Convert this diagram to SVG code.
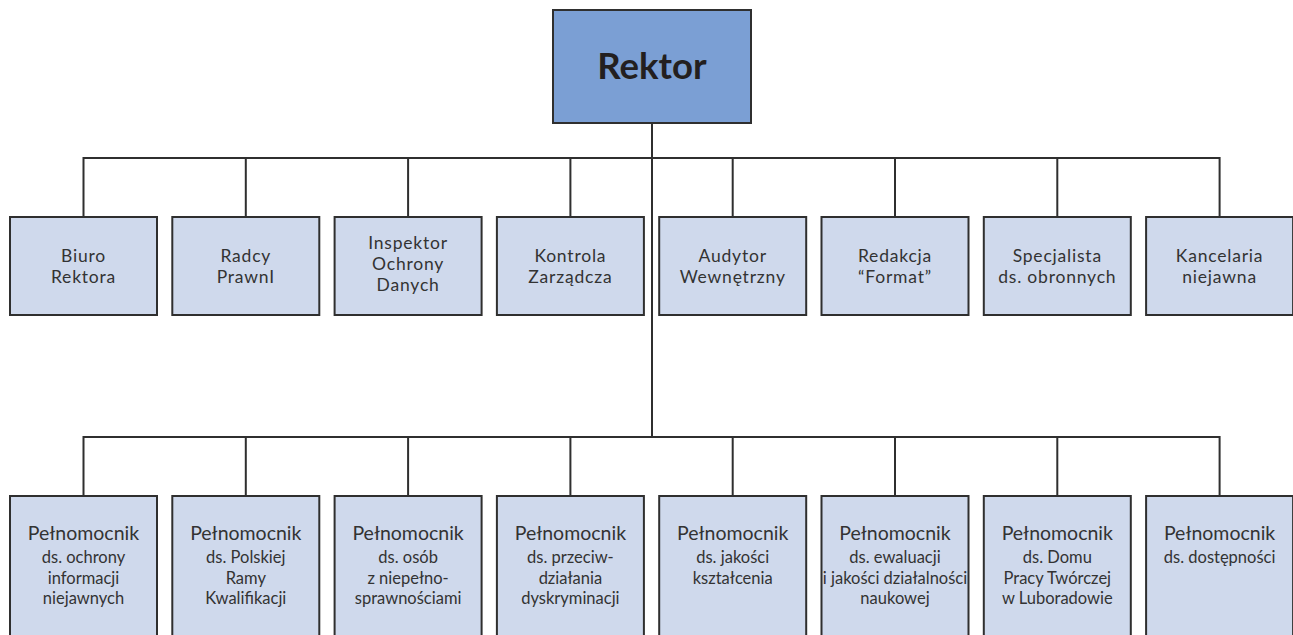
<svg xmlns="http://www.w3.org/2000/svg" width="1293" height="635" viewBox="0 0 1293 635">
  <style>
    .box { fill: #cfd9ec; stroke: #2f2f2f; stroke-width: 2; }
    .head { fill: #7b9fd4; stroke: #2f2f2f; stroke-width: 2; }
    .wire { fill: none; stroke: #2f2f2f; stroke-width: 2; }
    text { font-family: Lato, "Liberation Sans", sans-serif; fill: #333333; text-anchor: middle; }
    .t1 { font-size: 17.5px; letter-spacing: 0.8px; }
    .t2 { font-size: 19.5px; }
    .t3 { font-size: 16.5px; }
    .big { font-size: 36.5px; font-weight: bold; fill: #231f20; }
  </style>

  <!-- connectors -->
  <g id="connectors" class="wire">
    <path d="M652 123 V437"/>
    <path d="M83.5 217 V158 H1219.6 V217"/>
    <path d="M245.8 158 V217 M408.1 158 V217 M570.4 158 V217 M732.7 158 V217 M895 158 V217 M1057.3 158 V217"/>
    <path d="M83.5 496 V437 H1219.6 V496"/>
    <path d="M245.8 437 V496 M408.1 437 V496 M570.4 437 V496 M732.7 437 V496 M895 437 V496 M1057.3 437 V496"/>
  </g>

  <!-- head -->
  <g id="rektor">
    <rect class="head" x="553" y="10" width="198" height="113"/>
    <text class="big" x="652" y="79">Rektor</text>
  </g>

  <!-- upper row -->
  <g id="biuro-rektora">
    <rect class="box" x="10" y="217" width="147" height="98"/>
    <text class="t1" x="83.5" y="262">Biuro</text>
    <text class="t1" x="83.5" y="283">Rektora</text>
  </g>
  <g id="radcy-prawni">
    <rect class="box" x="172.3" y="217" width="147" height="98"/>
    <text class="t1" x="245.8" y="262">Radcy</text>
    <text class="t1" x="245.8" y="283">PrawnI</text>
  </g>
  <g id="inspektor-ochrony-danych">
    <rect class="box" x="334.6" y="217" width="147" height="98"/>
    <text class="t1" x="408.1" y="249">Inspektor</text>
    <text class="t1" x="408.1" y="270">Ochrony</text>
    <text class="t1" x="408.1" y="291">Danych</text>
  </g>
  <g id="kontrola-zarzadcza">
    <rect class="box" x="496.9" y="217" width="147" height="98"/>
    <text class="t1" x="570.4" y="262">Kontrola</text>
    <text class="t1" x="570.4" y="283">Zarządcza</text>
  </g>
  <g id="audytor-wewnetrzny">
    <rect class="box" x="659.2" y="217" width="147" height="98"/>
    <text class="t1" x="732.7" y="262">Audytor</text>
    <text class="t1" x="732.7" y="283">Wewnętrzny</text>
  </g>
  <g id="redakcja-format">
    <rect class="box" x="821.5" y="217" width="147" height="98"/>
    <text class="t1" x="895" y="262">Redakcja</text>
    <text class="t1" x="895" y="283">“Format”</text>
  </g>
  <g id="specjalista-ds-obronnych">
    <rect class="box" x="983.8" y="217" width="147" height="98"/>
    <text class="t1" x="1057.3" y="262">Specjalista</text>
    <text class="t1" x="1057.3" y="283">ds. obronnych</text>
  </g>
  <g id="kancelaria-niejawna">
    <rect class="box" x="1146.1" y="217" width="147" height="98"/>
    <text class="t1" x="1219.6" y="262">Kancelaria</text>
    <text class="t1" x="1219.6" y="283">niejawna</text>
  </g>

  <!-- lower row -->
  <g id="pelnomocnik-informacji-niejawnych">
    <rect class="box" x="10" y="496" width="147" height="150"/>
    <text class="t2" x="83.5" y="540">Pełnomocnik</text>
    <text class="t3" x="83.5" y="563">ds. ochrony</text>
    <text class="t3" x="83.5" y="583.5">informacji</text>
    <text class="t3" x="83.5" y="604">niejawnych</text>
  </g>
  <g id="pelnomocnik-prk">
    <rect class="box" x="172.3" y="496" width="147" height="150"/>
    <text class="t2" x="245.8" y="540">Pełnomocnik</text>
    <text class="t3" x="245.8" y="563">ds. Polskiej</text>
    <text class="t3" x="245.8" y="583.5">Ramy</text>
    <text class="t3" x="245.8" y="604">Kwalifikacji</text>
  </g>
  <g id="pelnomocnik-niepelnosprawnosci">
    <rect class="box" x="334.6" y="496" width="147" height="150"/>
    <text class="t2" x="408.1" y="540">Pełnomocnik</text>
    <text class="t3" x="408.1" y="563">ds. osób</text>
    <text class="t3" x="408.1" y="583.5">z niepełno-</text>
    <text class="t3" x="408.1" y="604">sprawnościami</text>
  </g>
  <g id="pelnomocnik-dyskryminacji">
    <rect class="box" x="496.9" y="496" width="147" height="150"/>
    <text class="t2" x="570.4" y="540">Pełnomocnik</text>
    <text class="t3" x="570.4" y="563">ds. przeciw-</text>
    <text class="t3" x="570.4" y="583.5">działania</text>
    <text class="t3" x="570.4" y="604">dyskryminacji</text>
  </g>
  <g id="pelnomocnik-jakosci-ksztalcenia">
    <rect class="box" x="659.2" y="496" width="147" height="150"/>
    <text class="t2" x="732.7" y="540">Pełnomocnik</text>
    <text class="t3" x="732.7" y="563">ds. jakości</text>
    <text class="t3" x="732.7" y="583.5">kształcenia</text>
  </g>
  <g id="pelnomocnik-ewaluacji">
    <rect class="box" x="821.5" y="496" width="147" height="150"/>
    <text class="t2" x="895" y="540">Pełnomocnik</text>
    <text class="t3" x="895" y="563">ds. ewaluacji</text>
    <text class="t3" x="895" y="583.5">i jakości działalności</text>
    <text class="t3" x="895" y="604">naukowej</text>
  </g>
  <g id="pelnomocnik-luboradow">
    <rect class="box" x="983.8" y="496" width="147" height="150"/>
    <text class="t2" x="1057.3" y="540">Pełnomocnik</text>
    <text class="t3" x="1057.3" y="563">ds. Domu</text>
    <text class="t3" x="1057.3" y="583.5">Pracy Twórczej</text>
    <text class="t3" x="1057.3" y="604">w Luboradowie</text>
  </g>
  <g id="pelnomocnik-dostepnosci">
    <rect class="box" x="1146.1" y="496" width="147" height="150"/>
    <text class="t2" x="1219.6" y="540">Pełnomocnik</text>
    <text class="t3" x="1219.6" y="563">ds. dostępności</text>
  </g>
</svg>
